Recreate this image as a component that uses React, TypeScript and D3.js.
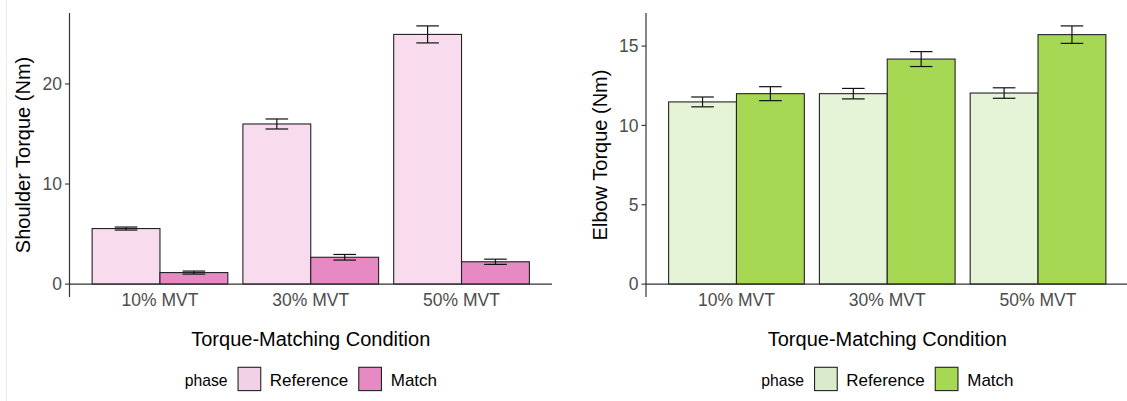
import { scaleBand, scaleLinear } from "d3";

const WIDTH = 1127;
const HEIGHT = 401;
const FONT = "'Liberation Sans', Arial, Helvetica, sans-serif";

const conditions = ["10% MVT", "30% MVT", "50% MVT"];
const phases = ["Reference", "Match"];

const shoulderRef = [5.55, 16.0, 24.95];
const shoulderRefSe = [0.15, 0.5, 0.85];
const shoulderMatch = [1.15, 2.68, 2.23];
const shoulderMatchSe = [0.15, 0.28, 0.26];
const shoulderTicks = [0, 10, 20];

const elbowRef = [11.48, 12.0, 12.04];
const elbowRefSe = [0.31, 0.33, 0.33];
const elbowMatch = [12.0, 14.18, 15.72];
const elbowMatchSe = [0.44, 0.47, 0.55];
const elbowTicks = [0, 5, 10, 15];

const TOP = 13;
const BOTTOM = 297;

function Panel({ left, right, means, ses, ticks, yTitle, yTitleX, fills, legendFills }) {
  const yMax = Math.max(...means.flatMap((m, p) => m.map((v, i) => v + ses[p][i])));
  const y = scaleLinear().domain([-0.05 * yMax, 1.05 * yMax]).range([BOTTOM, TOP]);
  const x = scaleBand().domain(conditions).range([left, right]).paddingInner(0.1).paddingOuter(0.15);
  const sub = scaleBand().domain(phases).range([0, x.bandwidth()]).padding(0);
  const capW = x.step() * 0.15;
  const center = (left + right) / 2;

  return (
    <g>
      {conditions.map((c, i) =>
        phases.map((p, pi) => {
          const bx = (x(c) ?? 0) + (sub(p) ?? 0);
          const v = means[pi][i];
          const se = ses[pi][i];
          const cx = bx + sub.bandwidth() / 2;
          return (
            <g key={c + p}>
              <rect x={bx} y={y(v)} width={sub.bandwidth()} height={y(0) - y(v)} fill={fills[pi]} stroke="#222" strokeWidth={1.1} />
              <g stroke="#111" strokeWidth={1.2}>
                <line x1={cx} x2={cx} y1={y(v + se)} y2={y(v - se)} />
                <line x1={cx - capW / 2} x2={cx + capW / 2} y1={y(v + se)} y2={y(v + se)} />
                <line x1={cx - capW / 2} x2={cx + capW / 2} y1={y(v - se)} y2={y(v - se)} />
              </g>
            </g>
          );
        })
      )}
      <line x1={left} x2={right} y1={y(0)} y2={y(0)} stroke="#333" strokeWidth={1.2} />
      <line x1={left} x2={left} y1={TOP} y2={BOTTOM} stroke="#333" strokeWidth={1.2} />
      {ticks.map((t) => (
        <g key={t}>
          <line x1={left - 4.5} x2={left} y1={y(t)} y2={y(t)} stroke="#333" strokeWidth={1.1} />
          <text x={left - 7.5} y={y(t)} dy="0.35em" textAnchor="end" fontSize={17.5} fill="#4d4d4d">
            {t}
          </text>
        </g>
      ))}
      {conditions.map((c) => (
        <text key={c} x={(x(c) ?? 0) + x.bandwidth() / 2} y={306} textAnchor="middle" fontSize={17.5} fill="#4d4d4d">
          {c}
        </text>
      ))}
      <text x={center} y={346} textAnchor="middle" fontSize={20} fill="#000">
        Torque-Matching Condition
      </text>
      <text transform={`translate(${yTitleX},${(TOP + BOTTOM) / 2}) rotate(-90)`} textAnchor="middle" fontSize={20} fill="#000">
        {yTitle}
      </text>
      <g transform={`translate(${center - 126},0)`}>
        <text x={0} y={386} fontSize={15.7} fill="#000">phase</text>
        <rect x={53.3} y={367.3} width={22.7} height={23.3} fill={legendFills[0]} stroke="#222" strokeWidth={1.1} />
        <text x={85} y={386} fontSize={17} fill="#000">Reference</text>
        <rect x={174} y={367.3} width={22.7} height={23.3} fill={legendFills[1]} stroke="#222" strokeWidth={1.1} />
        <text x={206} y={386} fontSize={17} fill="#000">Match</text>
      </g>
    </g>
  );
}

export default function App() {
  return (
    <div style={{ position: "absolute", left: 0, top: 0 }}>
      <svg width={WIDTH} height={HEIGHT} viewBox={`0 0 ${WIDTH} ${HEIGHT}`} fontFamily={FONT} style={{ display: "block", background: "#fff" }}>
        <rect width={WIDTH} height={HEIGHT} fill="#fff" />
        <line x1={6.5} x2={6.5} y1={0} y2={HEIGHT} stroke="#ececec" strokeWidth={1} />
        <Panel
          left={69.5}
          right={552}
          means={[shoulderRef, shoulderMatch]}
          ses={[shoulderRefSe, shoulderMatchSe]}
          ticks={shoulderTicks}
          yTitle="Shoulder Torque (Nm)"
          yTitleX={30}
          fills={["#f8dcee", "#e78ac3"]}
          legendFills={["#f0d1e6", "#e78ac3"]}
        />
        <Panel
          left={646}
          right={1128.5}
          means={[elbowRef, elbowMatch]}
          ses={[elbowRefSe, elbowMatchSe]}
          ticks={elbowTicks}
          yTitle="Elbow Torque (Nm)"
          yTitleX={606.5}
          fills={["#e5f4d6", "#a6d854"]}
          legendFills={["#daebcb", "#a6d854"]}
        />
      </svg>
    </div>
  );
}
